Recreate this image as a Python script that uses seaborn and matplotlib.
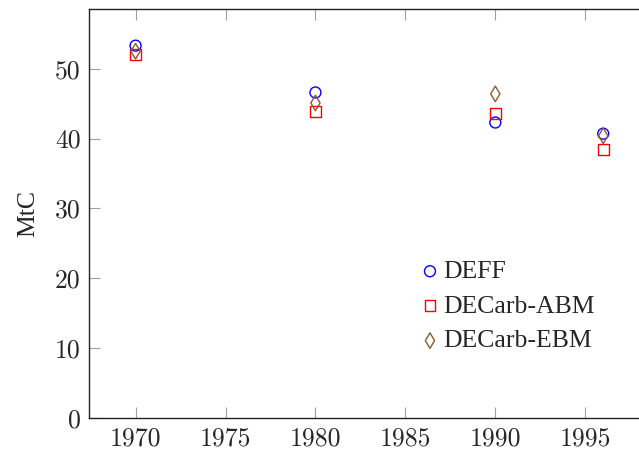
import matplotlib
matplotlib.use("Agg")
import matplotlib.pyplot as plt
import seaborn as sns
import pandas as pd

years = [1970, 1980, 1990, 1996]
deff = [53.3, 46.6, 42.3, 40.7]
decarb_abm = [52.1, 43.9, 43.6, 38.4]
decarb_ebm = [52.5, 45.1, 46.4, 40.4]
series_names = ["DEFF", "DECarb-ABM", "DECarb-EBM"]
x_ticks = [1970, 1975, 1980, 1985, 1990, 1995]
y_ticks = [0, 10, 20, 30, 40, 50]

sns.set_style("white")
plt.rcParams["font.family"] = ["Liberation Serif", "DejaVu Serif"]

fig = plt.figure(figsize=(6.39, 4.53), dpi=100)
W, H = 639, 453
x0, x1, y0, y1 = 88.8, 650.0, 418.0, 9.0
ax = fig.add_axes([x0 / W, 1 - y0 / H, (x1 - x0) / W, (y0 - y1) / H])

df = pd.DataFrame({
    "year": years * 3,
    "value": deff + decarb_abm + decarb_ebm,
    "series": [series_names[0]] * 4 + [series_names[1]] * 4 + [series_names[2]] * 4,
})

styles = {
    "DEFF": dict(marker="o", color="#0000ff", s=62),
    "DECarb-ABM": dict(marker="s", color="#ff0000", s=62),
    "DECarb-EBM": dict(marker="d", color="#8a5a2e", s=62),
}
for name in series_names:
    sub = df[df["series"] == name]
    st = styles[name]
    sns.scatterplot(data=sub, x="year", y="value", ax=ax, marker=st["marker"],
                    s=st["s"], color=st["color"], facecolor="none",
                    edgecolor=st["color"], linewidth=1.0, label=name, zorder=3)

ax.set_xlim(1967.4, 1998.6)
ax.set_ylim(0, 58.55)
ax.set_xticks(x_ticks)
ax.set_yticks(y_ticks)
ax.set_xticklabels([str(t) for t in x_ticks], fontfamily="cmr10", fontsize=18.5)
ax.set_yticklabels([str(t) for t in y_ticks], fontfamily="cmr10", fontsize=18.5)
ax.tick_params(axis="both", which="major", direction="in", length=8, width=0.8,
               color="#a0a0a0", top=True, right=True, bottom=True, left=True)
ax.tick_params(axis="x", pad=6)
ax.tick_params(axis="y", pad=6)
for sp in ax.spines.values():
    sp.set_visible(True)
    sp.set_color("#222222")
    sp.set_linewidth(1.0)

ax.set_xlabel("")
ax.set_ylabel("MtC", fontsize=18.5)
ax.yaxis.set_label_coords(-0.089, 0.5)

leg = ax.legend(loc="upper left", bbox_to_anchor=((419.7 - x0) / (x1 - x0), (418 - 260) / (y0 - y1)),
                frameon=False, fontsize=18.5, handletextpad=0.1, handlelength=0.8,
                labelspacing=0.455, borderaxespad=0, borderpad=0)

fig.savefig("out.png", dpi=100)
